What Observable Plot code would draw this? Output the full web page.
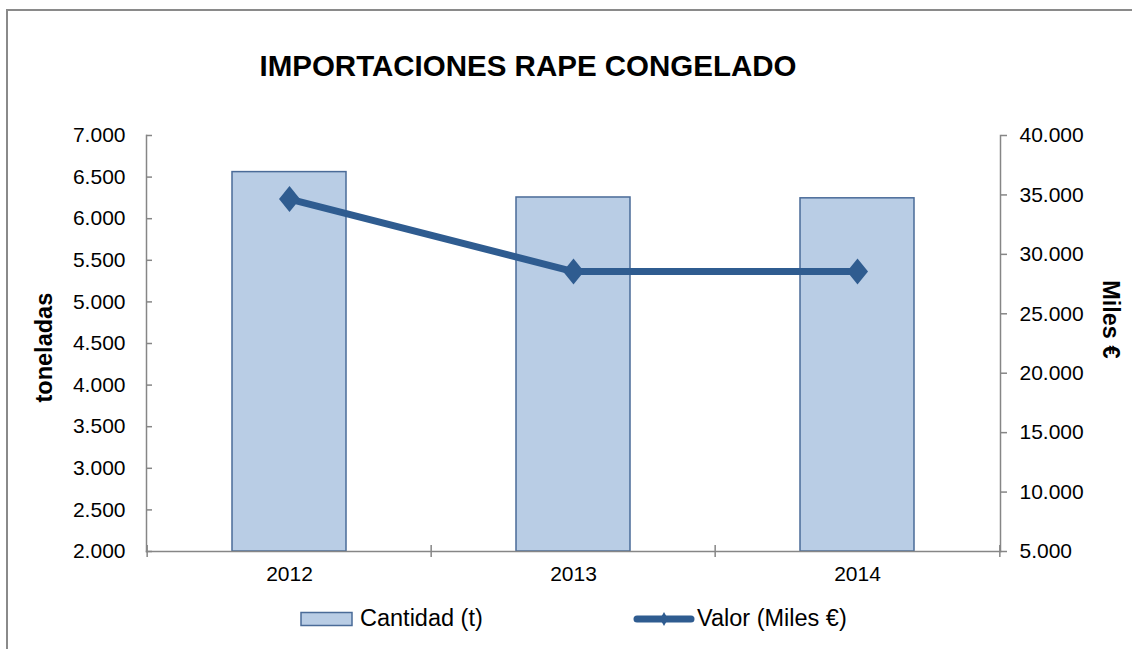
<!DOCTYPE html>
<html>
<head>
<meta charset="utf-8">
<script src="https://cdn.jsdelivr.net/npm/d3@7"></script>
<script src="https://cdn.jsdelivr.net/npm/@observablehq/plot@0.6"></script>
<style>
  html, body { margin: 0; padding: 0; background: #fff; }
  body { width: 1132px; height: 649px; position: relative; overflow: hidden; font-family: "Liberation Sans", Arial, sans-serif; color: #000; }
  #border { position: absolute; left: 6px; top: 9px; right: -10px; bottom: -10px; border-left: 2px solid #8a8a8a; border-top: 2px solid #8a8a8a; }
  #chart { position: absolute; left: 0; top: 0; }
  #title { position: absolute; left: 0; width: 1056px; top: 51px; text-align: center; font-weight: bold; font-size: 29.5px; line-height: 1; white-space: nowrap; }
  .leg { position: absolute; top: 607px; font-size: 23.5px; line-height: 1; white-space: nowrap; display: flex; align-items: center; }
</style>
</head>
<body>
<div id="border"></div>
<div id="chart"></div>
<div id="title">IMPORTACIONES RAPE CONGELADO</div>
<div class="leg" id="leg1" style="left:300px"></div>
<div class="leg" id="leg2" style="left:633px"></div>
<script>
// ---- data ----
const years = ["2012", "2013", "2014"];
const cantidad = [6560, 6255, 6245];          // toneladas (left axis)
const valor = [34650, 28550, 28550];          // Miles € (right axis)
const leftTicks = [2000, 2500, 3000, 3500, 4000, 4500, 5000, 5500, 6000, 6500, 7000];
const rightTicks = [5000, 10000, 15000, 20000, 25000, 30000, 35000, 40000];
const seriesNames = ["Cantidad (t)", "Valor (Miles €)"];
const axisTitles = ["toneladas", "Miles €"];

// ---- style ----
const barFill = "#B9CDE5";
const barStroke = "#4A6B98";
const lineColor = "#2F5C90";
const axisColor = "#868686";

const W = 1132, H = 649, mL = 146, mR = 132, mT = 135, mB = 98;
const step = (W - mL - mR) / years.length;

const locale = d3.formatLocale({decimal: ",", thousands: ".", grouping: [3], currency: ["", "€"]});
const fmt = locale.format(",.0f");

// right axis values mapped onto the left (primary) scale
const toLeft = d3.scaleLinear([rightTicks[0], rightTicks[rightTicks.length - 1]], [leftTicks[0], leftTicks[leftTicks.length - 1]]);

const table = years.map((year, i) => ({year, cantidad: cantidad[i], valor: valor[i], valorL: toLeft(valor[i])}));

const diamond = {
  draw(ctx, size) {
    const r = Math.sqrt(size / Math.PI);
    ctx.moveTo(0, -1.3 * r);
    ctx.lineTo(1.05 * r, 0);
    ctx.lineTo(0, 1.3 * r);
    ctx.lineTo(-1.05 * r, 0);
    ctx.closePath();
  }
};

const chart = Plot.plot({
  width: W, height: H,
  marginLeft: mL, marginRight: mR, marginTop: mT, marginBottom: mB,
  style: {fontFamily: "'Liberation Sans', Arial, sans-serif", fontSize: "21px", color: "#000", background: "transparent", overflow: "visible"},
  x: {type: "band", domain: years, paddingInner: 0.6, paddingOuter: 0.3},
  y: {domain: [leftTicks[0], leftTicks[leftTicks.length - 1]]},
  marks: [
    Plot.barY(table, {x: "year", y1: leftTicks[0], y2: "cantidad", fill: barFill, stroke: barStroke, strokeWidth: 1.5}),
    Plot.frame({anchor: "left", stroke: axisColor, strokeWidth: 1.5}),
    Plot.frame({anchor: "right", stroke: axisColor, strokeWidth: 1.5}),
    Plot.frame({anchor: "bottom", stroke: axisColor, strokeWidth: 1.5}),
    // x boundary ticks
    Plot.ruleX(years, {x: d => d, y1: leftTicks[0], y2: leftTicks[0], insetTop: -6, insetBottom: -6, dx: -step / 2, stroke: axisColor, strokeWidth: 1.5}),
    Plot.ruleX(years.slice(-1), {x: d => d, y1: leftTicks[0], y2: leftTicks[0], insetTop: -6, insetBottom: -6, dx: step / 2, stroke: axisColor, strokeWidth: 1.5}),
    Plot.axisX(years, {anchor: "bottom", tickSize: 0, tickPadding: 15, label: null}),
    // left axis
    Plot.axisY(leftTicks, {anchor: "left", tickSize: 0, tickPadding: 21, tickFormat: fmt, label: null}),
    Plot.axisY(leftTicks, {anchor: "left", tickSize: 6, insetLeft: 6, fill: "none", label: null, stroke: axisColor, strokeWidth: 1.5}),
    // right axis
    Plot.axisY(rightTicks.map(toLeft), {anchor: "right", tickSize: 6, tickPadding: 13, tickFormat: d => fmt(toLeft.invert(d)), label: null, stroke: axisColor, fill: "#000", strokeWidth: 1.5}),
    // line + markers
    Plot.line(table, {x: "year", y: "valorL", stroke: lineColor, strokeWidth: 7, strokeLinejoin: "round"}),
    Plot.dot(table, {x: "year", y: "valorL", symbol: diamond, r: 10, fill: lineColor, stroke: null}),
    // axis titles
    Plot.text([axisTitles[0]], {text: d => d, frameAnchor: "left", rotate: -90, dx: -102, dy: 59, fontWeight: "bold", fontSize: 23.5}),
    Plot.text([axisTitles[1]], {text: d => d, frameAnchor: "right", rotate: 90, dx: 110, dy: 15, fontWeight: "bold", fontSize: 23.5})
  ]
});
document.getElementById("chart").appendChild(chart);

// legend
document.getElementById("leg1").innerHTML =
  `<svg width="54" height="16" style="margin-right:6px"><rect x="1" y="1.5" width="51" height="13" fill="${barFill}" stroke="${barStroke}" stroke-width="1.5"/></svg><span>${seriesNames[0]}</span>`;
document.getElementById("leg2").innerHTML =
  `<svg width="62" height="16" style="margin-right:2px"><line x1="4" y1="8" x2="58" y2="8" stroke="${lineColor}" stroke-width="7" stroke-linecap="round"/><path d="M31,1 L35,8 L31,15 L27,8 Z" fill="${lineColor}"/></svg><span>${seriesNames[1]}</span>`;
</script>
</body>
</html>
